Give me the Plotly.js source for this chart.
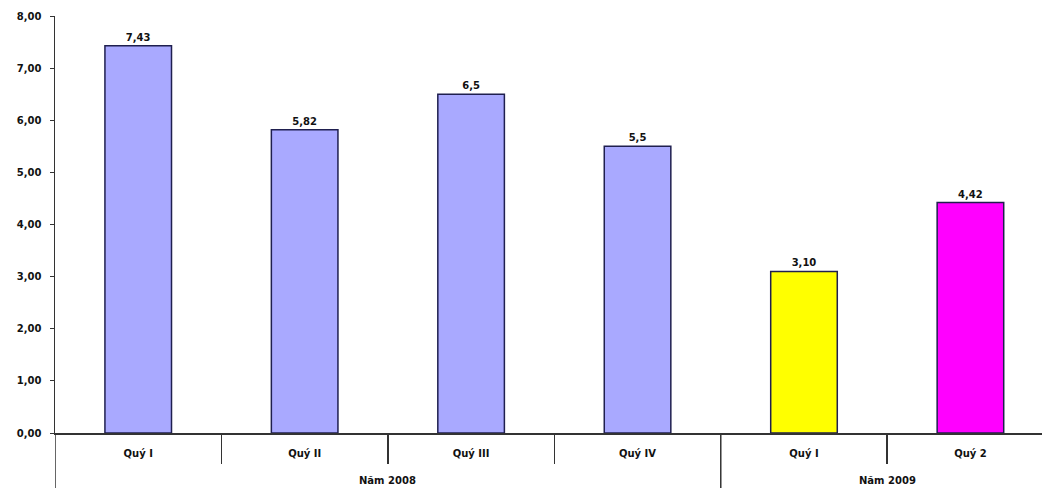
<!DOCTYPE html>
<html><head><meta charset="utf-8">
<script src="https://cdn.plot.ly/plotly-3.0.1.min.js"></script>
<style>html,body{margin:0;padding:0;background:#fff}#chart{width:1042px;height:491px}</style>
</head><body><div id="chart"></div>
<script>
const quarters = ["Quý I","Quý II","Quý III","Quý IV","Quý I","Quý 2"];
const yearOf = ["Năm 2008","Năm 2008","Năm 2008","Năm 2008","Năm 2009","Năm 2009"];
const values = [7.43, 5.82, 6.5, 5.5, 3.10, 4.42];
const labels = ["7,43","5,82","6,5","5,5","3,10","4,42"];
const colors = ["#A9A9FF","#A9A9FF","#A9A9FF","#A9A9FF","#FFFF00","#FF00FF"];
const yTicks = [0,1,2,3,4,5,6,7,8];

const idx = quarters.map((_, i) => i);
// category boundaries and year groups derived from the arrays
const innerBounds = [], yearBounds = [];
for (let i = 1; i < quarters.length; i++) {
  if (yearOf[i] !== yearOf[i-1]) yearBounds.push(i - 0.5); else innerBounds.push(i - 0.5);
}
const groups = [];
yearOf.forEach((y, i) => {
  const g = groups.find(g => g.name === y);
  if (g) g.last = i; else groups.push({name: y, first: i, last: i});
});

const fontFam = "DejaVu Sans, Verdana, sans-serif";
const axisFont = {family: fontFam, size: 10, color: "#111", weight: "bold"};
const lineCol = "#333";
const xRange = [-0.5, 5.43];

const shapes = [];
yearBounds.concat([xRange[0]]).forEach(b => shapes.push({
  type: "line", xref: "x", yref: "paper", x0: b, x1: b, y0: 0, y1: -0.132,
  line: {color: lineCol, width: 1.5}
}));

const annotations = groups.map(g => ({
  xref: "x", yref: "paper", x: (g.first + g.last) / 2, y: -0.115,
  text: g.name, showarrow: false, font: axisFont, yanchor: "middle"
}));

Plotly.newPlot("chart", [{
  type: "bar",
  x: idx,
  y: values,
  text: labels,
  textposition: "outside",
  cliponaxis: false,
  textfont: axisFont,
  marker: {color: colors, line: {color: "#1f1f4f", width: 1.5}},
  hoverinfo: "none"
}], {
  width: 1042, height: 491,
  margin: {l: 55, r: 0, t: 16, b: 58},
  paper_bgcolor: "#fff", plot_bgcolor: "#fff",
  bargap: 0.6,
  separators: ",.",
  showlegend: false,
  shapes: shapes,
  annotations: annotations,
  xaxis: {
    range: xRange,
    tickvals: idx, ticktext: quarters,
    showline: true, linecolor: lineCol, linewidth: 1.5,
    ticks: "", ticklabelstandoff: 10,
    minor: {tickvals: innerBounds, ticks: "outside", ticklen: 29, tickcolor: lineCol, tickwidth: 1.5, showgrid: false},
    tickfont: axisFont,
    showgrid: false, zeroline: false
  },
  yaxis: {
    range: [0, 8],
    tickvals: yTicks,
    tickformat: ".2f",
    showline: true, linecolor: lineCol, linewidth: 1.5,
    ticks: "outside", ticklen: 4, tickcolor: lineCol, ticklabelstandoff: 6,
    tickfont: axisFont,
    showgrid: false, zeroline: false
  }
}, {staticPlot: true});
</script></body></html>
